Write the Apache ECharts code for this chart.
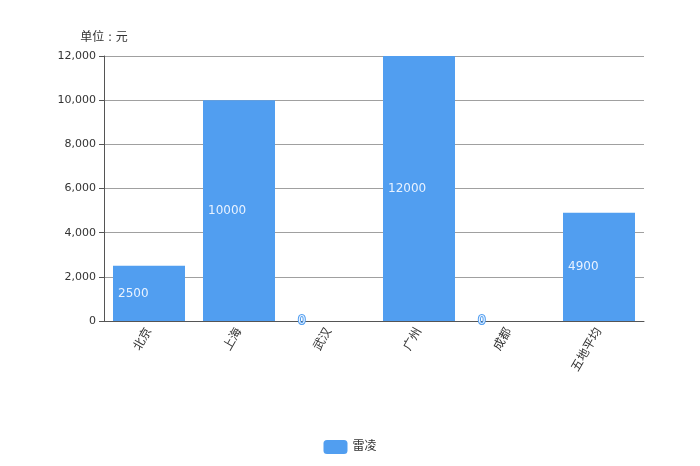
<!DOCTYPE html>
<html><head><meta charset="utf-8">
<script src="https://cdn.jsdelivr.net/npm/echarts@6/dist/echarts.min.js"></script>
<style>html,body{margin:0;padding:0;background:#fff}#c{width:700px;height:466px}</style>
</head><body><div id="c"></div>
<script>
const categories = ['北京', '上海', '武汉', '广州', '成都', '五地平均'];
const values = [2500, 10000, 0, 12000, 0, 4900];
const seriesName = '雷凌';
const yTicks = { min: 0, max: 12000, interval: 2000 };

const chart = echarts.init(document.getElementById('c'));
chart.setOption({
  textStyle: { fontFamily: 'DejaVu Sans, Noto Sans CJK SC, sans-serif' },
  legend: { bottom: 7, left: 'center', data: [seriesName], itemWidth: 24, itemHeight: 14,
    textStyle: { color: '#333', fontSize: 12 } },
  grid: { left: 104, right: 56, top: 56, bottom: 145 },
  xAxis: {
    type: 'category', data: categories,
    axisLine: { lineStyle: { color: '#555' } },
    axisTick: { show: false },
    axisLabel: { rotate: 60, color: '#333', fontSize: 12, interval: 0 }
  },
  yAxis: {
    type: 'value', min: yTicks.min, max: yTicks.max, interval: yTicks.interval,
    name: '单位 : 元', nameGap: 12, nameTextStyle: { color: '#333', fontSize: 12 },
    axisLine: { show: true, lineStyle: { color: '#555' } },
    axisTick: { show: true, lineStyle: { color: '#555' } },
    axisLabel: { color: '#333', fontSize: 11, formatter: v => v.toLocaleString('en-US') },
    splitLine: { lineStyle: { color: '#a0a0a0' } }
  },
  series: [{
    name: seriesName, type: 'bar', data: values, barWidth: '80%',
    itemStyle: { color: '#519ef0' },
    label: { show: true, position: 'insideLeft', fontSize: 12,
      color: '#e8f2ff', textBorderColor: '#519ef0', textBorderWidth: 2 }
  }]
});
</script></body></html>
